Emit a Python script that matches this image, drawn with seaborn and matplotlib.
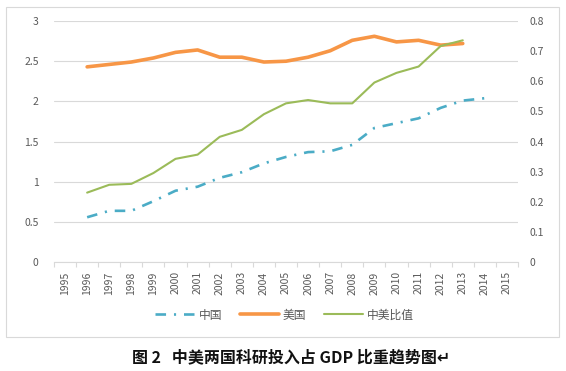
import numpy as np
import pandas as pd
import seaborn as sns
import matplotlib.pyplot as plt
from matplotlib.patches import Rectangle
from matplotlib.ticker import FuncFormatter

# R&D spending as share of GDP (%)
years_axis = list(range(1995, 2016))
china_years = list(range(1996, 2015))
china = [0.56, 0.64, 0.64, 0.76, 0.89, 0.94, 1.05, 1.12, 1.23, 1.31,
         1.37, 1.38, 1.46, 1.67, 1.73, 1.79, 1.92, 2.01, 2.04]
usa_years = list(range(1996, 2014))
usa = [2.43, 2.46, 2.49, 2.54, 2.61, 2.64, 2.55, 2.55, 2.49, 2.50,
       2.55, 2.63, 2.76, 2.81, 2.74, 2.76, 2.70, 2.72]
ratio_years = list(range(1996, 2014))
ratio = [0.231, 0.257, 0.260, 0.296, 0.343, 0.357, 0.416, 0.439, 0.491, 0.527,
         0.538, 0.527, 0.527, 0.596, 0.628, 0.649, 0.717, 0.736]

df_cn = pd.DataFrame({'year': china_years, 'value': china})
df_us = pd.DataFrame({'year': usa_years, 'value': usa})
df_ratio = pd.DataFrame({'year': ratio_years, 'value': ratio})

sns.set_theme(style='white')
plt.rcParams['font.family'] = ['Noto Sans CJK SC', 'DejaVu Sans']
plt.rcParams['axes.unicode_minus'] = False

grey = '#d9d9d9'
label_grey = '#595959'

fig = plt.figure(figsize=(5.66, 3.71), dpi=100)
ax = fig.add_axes([54 / 566, 1 - 262.3 / 371, 464 / 566, 241.3 / 371])
ax2 = ax.twinx()

sns.lineplot(data=df_cn, x='year', y='value', ax=ax, color='#4bacc6', lw=1.9,
             linestyle=(0, (4, 3, 0.8, 3)), label='中国', legend=False)
sns.lineplot(data=df_us, x='year', y='value', ax=ax, color='#f79646', lw=2.6,
             label='美国', legend=False)
sns.lineplot(data=df_ratio, x='year', y='value', ax=ax2, color='#9bbb59', lw=1.5,
             label='中美比值', legend=False)

ax.set_xlim(1994.5, 2015.5)
ax.set_ylim(0, 3)
ax2.set_ylim(0, 0.8)
ax.set_yticks(np.arange(0, 3.01, 0.5))
ax2.set_yticks(np.arange(0, 0.81, 0.1))
ax.yaxis.set_major_formatter(FuncFormatter(lambda v, p: '%g' % v))
ax2.yaxis.set_major_formatter(FuncFormatter(lambda v, p: '%g' % round(v, 1)))
ax.set_xticks(years_axis)
ax.set_xticklabels([str(y) for y in years_axis], rotation=90)
ax.set_xticks(np.arange(1994.5, 2015.6, 1), minor=True)

ax.set_xlabel('')
ax.set_ylabel('')
ax2.set_ylabel('')

ax.grid(axis='y', color=grey, lw=0.8)
ax.grid(axis='x', visible=False)
ax2.grid(False)
for a in (ax, ax2):
    for s in ('top', 'left', 'right'):
        a.spines[s].set_visible(False)
    a.spines['bottom'].set_color(grey)
    a.spines['bottom'].set_linewidth(0.8)
ax2.spines['bottom'].set_visible(False)

ax.tick_params(axis='x', which='major', length=0, pad=6.5, labelsize=7.5, labelcolor=label_grey)
ax.tick_params(axis='x', which='minor', length=3.5, width=0.8, color=grey, bottom=True)
ax.tick_params(axis='y', length=0, pad=11, labelsize=7.5, labelcolor=label_grey)
ax2.tick_params(axis='y', length=0, pad=8, labelsize=7.5, labelcolor=label_grey)

h1, l1 = ax.get_legend_handles_labels()
h2, l2 = ax2.get_legend_handles_labels()
fig.legend(h1 + h2, l1 + l2, loc='center', bbox_to_anchor=(0.503, 1 - 315 / 371),
           ncol=3, frameon=False, fontsize=8.5, handlelength=3.3, handletextpad=0.35,
           columnspacing=1.5, labelcolor=label_grey)

# chart frame
fig.patches.append(Rectangle((6 / 566, 1 - 337 / 371), 553 / 566, 330 / 371,
                             transform=fig.transFigure, fill=False, edgecolor=grey, lw=0.8))

fig.text(0.515, 1 - 357 / 371, '图 2   中美两国科研投入占 GDP 比重趋势图↵',
         ha='center', va='center', fontsize=11.5, fontweight='bold', color='#111111')

fig.savefig('out.png', dpi=100)
